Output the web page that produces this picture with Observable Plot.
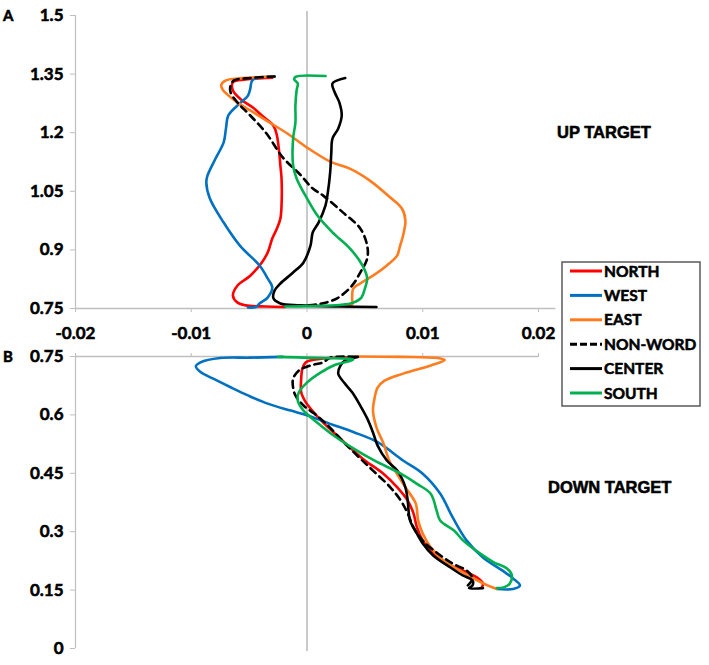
<!DOCTYPE html>
<html><head><meta charset="utf-8">
<script src="https://cdn.jsdelivr.net/npm/d3@7"></script>
<script src="https://cdn.jsdelivr.net/npm/@observablehq/plot@0.6"></script>
<style>
body{margin:0;background:#fff}
#wrap{position:relative;width:709px;height:665px;overflow:hidden}
#wrap > svg{position:absolute;left:0}
#wrap text{stroke:#000;stroke-width:0.55px;paint-order:stroke}
</style>
</head><body><div id="wrap"></div>
<script>
// ---- categories / styles ----
const seriesNames = ["NORTH", "WEST", "EAST", "NON-WORD", "CENTER", "SOUTH"];
const seriesColors = ["#FF0000", "#0070C0", "#FF7C1F", "#000000", "#000000", "#00B050"];
const seriesDash = [null, null, null, "7,5", null, null];

// ---- tick labels ----
const xTicks = [-0.02, -0.01, 0, 0.01, 0.02];
const xLabels = ["-0.02", "-0.01", "0", "0.01", "0.02"];
const yTicksA = [0.75, 0.9, 1.05, 1.2, 1.35, 1.5];
const yLabelsA = ["0.75", "0.9", "1.05", "1.2", "1.35", "1.5"];
const yTicksB = [0, 0.15, 0.3, 0.45, 0.6, 0.75];
const yLabelsB = ["0", "0.15", "0.3", "0.45", "0.6", "0.75"];

// ---- panel A (UP TARGET): [x, y] ----
const northA = [[-0.0030,1.341],[-0.0053,1.336],[-0.0064,1.329],[-0.0064,1.308],[-0.0057,1.285],[-0.0047,1.265],[-0.0039,1.244],[-0.0029,1.218],[-0.0026,1.193],[-0.0024,1.149],[-0.0023,1.116],[-0.0022,1.083],[-0.0022,1.014],[-0.0023,0.980],[-0.0026,0.955],[-0.0030,0.929],[-0.0034,0.893],[-0.0039,0.868],[-0.0049,0.834],[-0.0060,0.809],[-0.0064,0.783],[-0.0060,0.765],[-0.0053,0.758],[-0.0036,0.755],[-0.0019,0.754]];
const westA = [[-0.0028,1.344],[-0.0047,1.335],[-0.0049,1.313],[-0.0051,1.295],[-0.0060,1.270],[-0.0068,1.244],[-0.0070,1.211],[-0.0072,1.175],[-0.0079,1.134],[-0.0086,1.090],[-0.0087,1.073],[-0.0084,1.032],[-0.0072,0.970],[-0.0058,0.911],[-0.0041,0.860],[-0.0034,0.827],[-0.0030,0.804],[-0.0034,0.778],[-0.0041,0.763],[-0.0044,0.754],[-0.0051,0.7526]];
const eastA = [[-0.0029,1.344],[-0.0058,1.339],[-0.0070,1.334],[-0.0074,1.323],[-0.0073,1.311],[-0.0069,1.298],[-0.0060,1.277],[-0.0049,1.257],[-0.0035,1.231],[-0.0017,1.198],[0.0000,1.162],[0.0020,1.126],[0.0037,1.108],[0.0054,1.078],[0.0072,1.034],[0.0082,1.006],[0.0085,0.975],[0.0083,0.937],[0.0080,0.906],[0.0078,0.886],[0.0069,0.860],[0.0057,0.834],[0.0046,0.814],[0.0040,0.801],[0.0039,0.776],[0.0039,0.760],[0.0034,0.755]];
const nonwordA = [[-0.0028,1.344],[-0.0049,1.340],[-0.0063,1.334],[-0.0066,1.321],[-0.0066,1.303],[-0.0060,1.277],[-0.0049,1.244],[-0.0035,1.198],[-0.0021,1.137],[-0.0006,1.093],[0.0005,1.057],[0.0014,1.039],[0.0031,0.996],[0.0046,0.955],[0.0052,0.911],[0.0052,0.878],[0.0046,0.842],[0.0039,0.809],[0.0026,0.776],[0.0011,0.7615],[0.0001,0.758]];
const centerA = [[0.0033,1.340],[0.0022,1.326],[0.0024,1.303],[0.0028,1.277],[0.0030,1.244],[0.0027,1.211],[0.0022,1.185],[0.0021,1.149],[0.0020,1.098],[0.0018,1.047],[0.0016,1.014],[0.0010,0.970],[0.0005,0.945],[0.0003,0.911],[-0.0003,0.868],[-0.0012,0.842],[-0.0023,0.814],[-0.0028,0.796],[-0.0029,0.776],[-0.0023,0.763],[-0.0006,0.758],[0.0028,0.755],[0.0060,0.754]];
const southA = [[0.0016,1.345],[-0.0010,1.343],[-0.0011,1.336],[-0.0008,1.326],[-0.0009,1.308],[-0.0010,1.270],[-0.0010,1.226],[-0.0012,1.185],[-0.0012,1.116],[-0.0009,1.083],[0.0000,1.032],[0.0009,0.988],[0.0022,0.945],[0.0037,0.904],[0.0048,0.860],[0.0052,0.827],[0.0050,0.801],[0.0047,0.778],[0.0040,0.765],[0.0028,0.759],[0.0003,0.756],[-0.0019,0.755]];

// ---- panel B (DOWN TARGET): [x, y] ----
const northB = [[0.0042,0.748],[0.0020,0.746],[0.0003,0.740],[-0.0001,0.735],[-0.0004,0.719],[-0.0005,0.693],[-0.0005,0.658],[-0.0001,0.632],[0.0006,0.606],[0.0014,0.580],[0.0026,0.547],[0.0038,0.514],[0.0050,0.483],[0.0066,0.449],[0.0078,0.414],[0.0087,0.380],[0.0092,0.347],[0.0095,0.311],[0.0100,0.277],[0.0109,0.244],[0.0121,0.218],[0.0135,0.200],[0.0147,0.182],[0.0152,0.167],[0.0151,0.157]];
const westB = [[-0.0021,0.749],[-0.0049,0.747],[-0.0075,0.746],[-0.0092,0.735],[-0.0096,0.725],[-0.0092,0.710],[-0.0081,0.693],[-0.0066,0.671],[-0.0051,0.650],[-0.0034,0.629],[-0.0014,0.611],[0.0000,0.599],[0.0020,0.577],[0.0040,0.556],[0.0061,0.530],[0.0083,0.483],[0.0100,0.449],[0.0115,0.398],[0.0126,0.336],[0.0138,0.277],[0.0152,0.234],[0.0169,0.200],[0.0178,0.180],[0.0184,0.162],[0.0178,0.153],[0.0164,0.153]];
const eastB = [[0.0042,0.750],[0.0081,0.749],[0.0113,0.746],[0.0119,0.741],[0.0107,0.727],[0.0083,0.706],[0.0067,0.688],[0.0061,0.670],[0.0058,0.637],[0.0057,0.611],[0.0060,0.568],[0.0066,0.527],[0.0071,0.483],[0.0076,0.457],[0.0085,0.414],[0.0094,0.372],[0.0096,0.329],[0.0100,0.295],[0.0107,0.259],[0.0118,0.226],[0.0132,0.200],[0.0144,0.180],[0.0156,0.162],[0.0164,0.153]];
const nonwordB = [[0.0042,0.749],[0.0020,0.747],[0.0014,0.735],[0.0003,0.727],[-0.0007,0.714],[-0.0012,0.693],[-0.0012,0.670],[-0.0010,0.650],[-0.0003,0.624],[0.0006,0.604],[0.0018,0.573],[0.0032,0.529],[0.0046,0.488],[0.0057,0.457],[0.0072,0.414],[0.0081,0.380],[0.0087,0.347],[0.0092,0.311],[0.0100,0.277],[0.0113,0.244],[0.0126,0.218],[0.0138,0.200],[0.0143,0.180],[0.0139,0.162]];
const centerB = [[0.0044,0.749],[0.0033,0.740],[0.0029,0.727],[0.0027,0.706],[0.0032,0.683],[0.0039,0.658],[0.0046,0.624],[0.0052,0.591],[0.0057,0.555],[0.0061,0.521],[0.0069,0.483],[0.0078,0.457],[0.0085,0.414],[0.0087,0.380],[0.0089,0.329],[0.0095,0.295],[0.0100,0.270],[0.0109,0.239],[0.0124,0.208],[0.0135,0.187],[0.0143,0.175],[0.0143,0.162],[0.0140,0.155],[0.0152,0.155]];
const southB = [[-0.0025,0.749],[0.0012,0.746],[0.0040,0.742],[0.0023,0.727],[0.0012,0.709],[0.0000,0.683],[-0.0007,0.658],[-0.0008,0.637],[-0.0003,0.611],[0.0009,0.580],[0.0023,0.547],[0.0040,0.514],[0.0058,0.483],[0.0081,0.449],[0.0095,0.423],[0.0107,0.397],[0.0112,0.354],[0.0115,0.329],[0.0127,0.303],[0.0135,0.277],[0.0150,0.243],[0.0161,0.222],[0.0173,0.205],[0.0177,0.188],[0.0175,0.166],[0.0170,0.157],[0.0164,0.155]];

const setsA = [northA, westA, eastA, nonwordA, centerA, southA];
const setsB = [northB, westB, eastB, nonwordB, centerB, southB];

const FONT = "Lato, 'Open Sans', sans-serif";
const AXIS = "#bfbfbf";

function lineMarks(sets) {
  return sets.map((s, i) => Plot.line(s, {
    x: d => d[0], y: d => d[1],
    stroke: seriesColors[i], strokeWidth: 2.6,
    strokeDasharray: seriesDash[i] || undefined,
    curve: "catmull-rom", strokeLinejoin: "round", strokeLinecap: "round"
  }));
}
const lab = (ticks, labels) => d => labels[ticks.indexOf(d)];
const style = {fontFamily: FONT, fontSize: "17px", fontWeight: "bold", color: "#000", background: "transparent", overflow: "visible"};

const plotA = Plot.plot({
  width: 709, height: 345,
  marginLeft: 75, marginRight: 171, marginTop: 15, marginBottom: 37,
  x: {domain: [-0.02, 0.02]},
  y: {domain: [0.75, 1.5]},
  style,
  marks: [
    Plot.ruleX([0], {stroke: "#a6a6a6", strokeWidth: 1.2, y1: 0.75, y2: 1.51}),
    Plot.ruleX([-0.02], {stroke: AXIS, strokeWidth: 1.2}),
    Plot.ruleY([0.75], {x1: -0.02, x2: 0.0215, stroke: AXIS, strokeWidth: 1.5, clip: false}),
    Plot.axisX(xTicks, {tickSize: 4, tickPadding: 14, tickFormat: lab(xTicks, xLabels), stroke: AXIS, fill: "#000", label: null}),
    Plot.axisY(yTicksA, {tickSize: 5, tickPadding: 7, tickFormat: lab(yTicksA, yLabelsA), stroke: AXIS, fill: "#000", label: null}),
    ...lineMarks(setsA)
  ]
});
plotA.style.top = "0px";

const plotB = Plot.plot({
  width: 709, height: 325,
  marginLeft: 75, marginRight: 171, marginTop: 16, marginBottom: 17,
  x: {domain: [-0.02, 0.02]},
  y: {domain: [0, 0.75]},
  style,
  marks: [
    Plot.ruleX([0], {stroke: "#a6a6a6", strokeWidth: 1.2, y1: -0.008, y2: 0.75}),
    Plot.ruleX([-0.02], {stroke: AXIS, strokeWidth: 1.2}),
    Plot.ruleY([0.75], {x1: -0.02, x2: 0.02, stroke: AXIS, strokeWidth: 1.5}),
    Plot.axisX(xTicks, {anchor: "top", tickSize: 4, tickFormat: () => "", stroke: AXIS, label: null}),
    Plot.axisY(yTicksB, {tickSize: 5, tickPadding: 7, tickFormat: lab(yTicksB, yLabelsB), stroke: AXIS, fill: "#000", label: null}),
    ...lineMarks(setsB)
  ]
});
plotB.style.top = "340px";

const wrap = document.getElementById("wrap");
wrap.appendChild(plotA);
wrap.appendChild(plotB);

// ---- overlay: panel letters, panel titles, legend ----
const ov = d3.create("svg").attr("width", 709).attr("height", 665)
  .style("top", "0px").style("font-family", FONT).style("font-weight", "bold");
ov.append("text").attr("x", 3).attr("y", 21).attr("font-size", 15).text("A");
ov.append("text").attr("x", 3).attr("y", 362).attr("font-size", 15).text("B");
ov.append("text").attr("x", 557).attr("y", 138).attr("font-size", 16.5)
  .attr("font-family", "'Liberation Sans', Arial, sans-serif").text("UP TARGET");
ov.append("text").attr("x", 548).attr("y", 493).attr("font-size", 16.5)
  .attr("font-family", "'Liberation Sans', Arial, sans-serif").text("DOWN TARGET");

const lg = ov.append("g");
lg.append("rect").attr("x", 562).attr("y", 262).attr("width", 138).attr("height", 144)
  .attr("fill", "#fff").attr("stroke", "#595959").attr("stroke-width", 1.5);
seriesNames.forEach((name, i) => {
  const cy = 271 + i * 24.4;
  lg.append("line").attr("x1", 570).attr("x2", 602).attr("y1", cy).attr("y2", cy)
    .attr("stroke", seriesColors[i]).attr("stroke-width", 3)
    .attr("stroke-dasharray", seriesDash[i] ? "7,3" : null);
  lg.append("text").attr("x", 604).attr("y", cy).attr("dy", "0.36em")
    .attr("font-size", 15.5).text(name);
});
wrap.appendChild(ov.node());
</script>
</body></html>
